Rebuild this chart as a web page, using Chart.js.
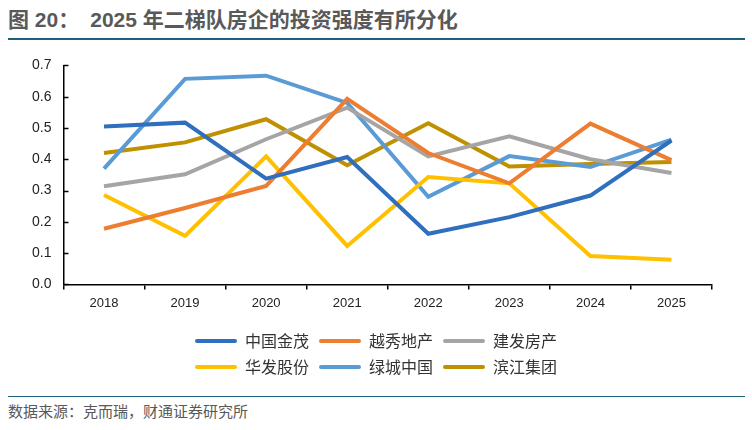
<!DOCTYPE html>
<html>
<head>
<meta charset="utf-8">
<script src="https://cdn.jsdelivr.net/npm/chart.js@4/dist/chart.umd.min.js"></script>
<style>
  body { margin: 0; width: 752px; height: 430px; background: #fff; position: relative; overflow: hidden; }
  .title {
    position: absolute; left: 8px; top: 5px; width: 737px; height: 33px;
    border-bottom: 2px solid #1f5f7f;
    font: bold 21px 'Liberation Sans', 'Noto Sans CJK SC', sans-serif; color: #595959; line-height: 30px;
  }
  .title .gap { display: inline-block; width: 11px; }
  .chart-view { position: absolute; left: 0; top: 45px; width: 752px; height: 345px; }
  .footer {
    position: absolute; left: 8px; top: 396px; width: 737px;
    border-top: 1.5px solid #1f5f7f;
    font: 15px 'Noto Sans CJK SC', sans-serif; color: #595959; padding-top: 3px;
  }
</style>
</head>
<body>
<div class="title">图 20：<span class="gap"></span>2025 年二梯队房企的投资强度有所分化</div>
<div class="chart-view"><canvas class="chart"></canvas></div>
<div class="footer">数据来源：克而瑞，财通证券研究所</div>
<script>
const years = ['2018', '2019', '2020', '2021', '2022', '2023', '2024', '2025'];
const jinmao = [0.505, 0.517, 0.338, 0.407, 0.162, 0.215, 0.284, 0.46];
const yuexiu = [0.178, 0.244, 0.315, 0.593, 0.42, 0.323, 0.514, 0.397];
const jianfa = [0.314, 0.352, 0.464, 0.565, 0.409, 0.473, 0.40, 0.356];
const huafa = [0.286, 0.155, 0.409, 0.123, 0.343, 0.323, 0.091, 0.079];
const greentown = [0.37, 0.657, 0.667, 0.58, 0.28, 0.41, 0.375, 0.463];
const binjiang = [0.42, 0.454, 0.528, 0.381, 0.515, 0.377, 0.385, 0.391];
const yTicks = [0, 0.1, 0.2, 0.3, 0.4, 0.5, 0.6, 0.7];

const series = [
  { label: '中国金茂', data: jinmao, color: '#2f6fbd' },
  { label: '越秀地产', data: yuexiu, color: '#ed7d31' },
  { label: '建发房产', data: jianfa, color: '#a5a5a5' },
  { label: '华发股份', data: huafa, color: '#ffc000' },
  { label: '绿城中国', data: greentown, color: '#5b9bd5' },
  { label: '滨江集团', data: binjiang, color: '#bf9000' },
];

Chart.defaults.font.family = `'Liberation Sans', Arial, sans-serif`;
Chart.defaults.color = '#222';

// legend in two rows of three, centred, with a little extra room above it
const LEGEND_WIDTH = 420;
const LEGEND_GAP = 6;
const LEGEND_SHIFT = 10;
const legendRows = {
  id: 'legendRows',
  beforeLayout(chart) {
    const legend = chart.legend;
    if (!legend || legend._rowsPatched) return;
    const originalFit = legend.fit;
    const originalDraw = legend._draw;
    legend.fit = function fit() {
      const fullWidth = this.maxWidth;
      this.maxWidth = LEGEND_WIDTH;
      originalFit.call(this);
      this.maxWidth = fullWidth;
      this.width = fullWidth;
      this.height += LEGEND_GAP;
    };
    legend._draw = function draw() {
      const { left, right, width, top } = this;
      this.left = (left + right - LEGEND_WIDTH) / 2 + LEGEND_SHIFT;
      this.right = this.left + LEGEND_WIDTH;
      this.width = LEGEND_WIDTH;
      this.top = top + LEGEND_GAP;
      originalDraw.call(this);
      Object.assign(this, { left, right, width, top });
    };
    legend._rowsPatched = true;
  },
};

// y tick marks point into the plot
const innerTicks = {
  id: 'innerTicks',
  afterDraw(chart) {
    const y = chart.scales.y;
    const ctx = chart.ctx;
    ctx.save();
    ctx.strokeStyle = '#000';
    ctx.lineWidth = 1.5;
    yTicks.forEach(v => {
      const py = Math.round(y.getPixelForValue(v)) + 0.5;
      ctx.beginPath();
      ctx.moveTo(y.right, py);
      ctx.lineTo(y.right + 5, py);
      ctx.stroke();
    });
    ctx.restore();
  },
};

const config = {
  type: 'line',
  data: {
    labels: years,
    datasets: series.map(s => ({
      label: s.label,
      data: s.data,
      borderColor: s.color,
      backgroundColor: s.color,
      borderWidth: 4,
      pointRadius: 0,
      tension: 0,
    })),
  },
  plugins: [legendRows, innerTicks],
  options: {
    responsive: true,
    maintainAspectRatio: false,
    animation: false,
    layout: { padding: { left: 20, right: 40, top: 7, bottom: 5 } },
    plugins: {
      tooltip: { enabled: false },
      legend: {
        position: 'bottom',
        labels: {
          boxWidth: 42,
          boxHeight: 4,
          padding: 10,
          color: '#333',
          font: { family: `'Noto Sans CJK SC', sans-serif`, size: 16 },
          generateLabels(chart) {
            return Chart.defaults.plugins.legend.labels.generateLabels(chart)
              .map(l => ({ ...l, lineWidth: 0, borderRadius: 2 }));
          },
        },
      },
    },
    scales: {
      x: {
        offset: true,
        grid: { offset: true, drawOnChartArea: false, tickLength: 5, color: '#000', lineWidth: 1.5 },
        border: { color: '#000', width: 1.5 },
        ticks: { font: { size: 13 }, padding: 6, color: '#222' },
      },
      y: {
        min: 0,
        max: 0.7,
        afterBuildTicks(scale) {
          scale.ticks = yTicks.map(v => ({ value: v }));
        },
        grid: { display: false, drawTicks: false },
        border: { color: '#000', width: 1.5 },
        ticks: {
          font: { size: 14 },
          padding: 12,
          color: '#222',
          callback: v => Number(v).toFixed(1),
        },
      },
    },
  },
};

new Chart(document.querySelector('.chart'), config);
</script>
</body>
</html>
